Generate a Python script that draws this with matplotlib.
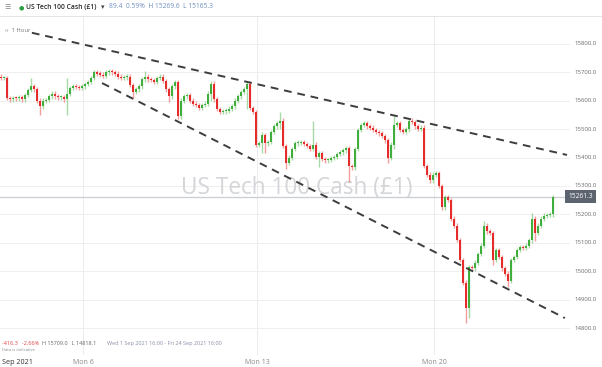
import matplotlib.pyplot as plt
import numpy as np

plt.rcParams['font.family'] = ['Open Sans', 'DejaVu Sans']

# hourly-ish closes (one value every ~3 px)
close = [15680, 15680, 15610, 15605, 15610, 15608, 15612, 15605, 15620, 15638,
         15650, 15640, 15600, 15580, 15600, 15603, 15615, 15625, 15615, 15612,
         15612, 15605, 15625, 15645, 15650, 15648, 15645, 15650,
         15658, 15665, 15680, 15700, 15695, 15692, 15688, 15700, 15702, 15700,
         15695, 15685, 15680, 15682, 15685, 15655, 15630, 15640, 15650, 15675,
         15685, 15675, 15672, 15665, 15680, 15685, 15670, 15640, 15615, 15650,
         15665, 15545, 15600, 15615, 15620, 15600, 15590, 15585, 15575, 15585,
         15590, 15625, 15660, 15605, 15570, 15560, 15562, 15565, 15572, 15580,
         15600, 15615, 15630, 15640, 15660, 15575, 15560, 15445,
         15450, 15480, 15450, 15455, 15490, 15510, 15522, 15530, 15440, 15380,
         15400, 15430, 15450, 15452, 15455, 15448, 15440, 15430, 15445, 15402,
         15415, 15395, 15390, 15392, 15398, 15402, 15412, 15418, 15425, 15433,
         15370, 15365, 15430, 15497, 15515, 15522, 15510, 15505, 15497, 15490,
         15485, 15475, 15460, 15400, 15445, 15515, 15522, 15497, 15490, 15500,
         15530, 15525, 15510, 15500, 15505, 15370, 15340, 15320,
         15340, 15345, 15300, 15225, 15260, 15250, 15185, 15160, 15110, 15040,
         14960, 14870, 15015, 15010, 15030, 15060, 15090, 15160, 15140, 15135,
         15040, 15075, 15050, 15010, 14990, 14965, 15040, 15050, 15075, 15085,
         15082, 15090, 15110, 15185, 15135, 15160, 15185, 15195, 15198, 15200,
         15261.3]
first_open = 15685

# bars with long wicks
spike_bar = [10, 13, 22, 44, 48, 56, 59, 70, 82, 87, 88, 93, 95, 104, 106,
             116, 129, 131, 136, 155, 156, 161, 164, 169, 177, 178, 184]
spike_high = [15680, 15600, 15680, 15660, 15703, 15640, 15600, 15668, 15668,
              15490, 15460, 15560, 15445, 15530, 15420, 15440, 15465, 15545,
              15538, 14960, 15020, 15175, 15060, 15000, 15205, 15190, 15269.6]
spike_low = [15630, 15550, 15550, 15610, 15670, 15595, 15538, 15600, 15570,
             15415, 15415, 15500, 15360, 15425, 15365, 15315, 15380, 15430,
             15490, 14818, 14835, 15120, 15020, 14945, 15100, 15105, 15190]

week_start_bar = [28, 86, 145]
week_labels = ['Mon 6', 'Mon 13', 'Mon 20']
y_ticks = [14800, 14900, 15000, 15100, 15200, 15300, 15400, 15500, 15600, 15700, 15800]

upper_x = [10.3, 188.7]
upper_y = [15839, 15409]
lower_x = [33.7, 188.0]
lower_y = [15662, 14835]
last_price = 15261.3

GREEN = '#3fae3a'
RED = '#e62b2b'

W, H = 602, 367
fig = plt.figure(figsize=(W / 100, H / 100), dpi=100)
ax = fig.add_axes([0, 12 / H, 570 / W, (355 - 16) / H])

n = len(close)
xs = np.arange(n)
opens = [first_open] + close[:-1]
hi = [max(o, c) + 8 for o, c in zip(opens, close)]
lo = [min(o, c) - 8 for o, c in zip(opens, close)]
for b, h, l in zip(spike_bar, spike_high, spike_low):
    hi[b] = max(hi[b], h)
    lo[b] = min(lo[b], l)

# grid
for t in y_ticks:
    ax.axhline(t, color='#ececec', lw=0.6, zorder=0)
for b in week_start_bar:
    ax.axvline(b - 0.5, color='#ececec', lw=0.7, zorder=0)

# watermark
ax.text(0.52, (15300 - 14705) / (15898 - 14705) - 0.005, 'US Tech 100 Cash (£1)',
        transform=ax.transAxes, ha='center', va='center', fontsize=16.3,
        color='#d3d5d8', zorder=0.5)

# last price line
ax.axhline(last_price, color='#c9cdd4', lw=0.9, zorder=1)

cols = [GREEN if c >= o else RED for o, c in zip(opens, close)]
ax.vlines(xs, lo, hi, colors=cols, lw=1.0, alpha=0.45, zorder=2)
bottoms = [min(o, c) for o, c in zip(opens, close)]
heights = [max(abs(c - o), 4) for o, c in zip(opens, close)]
ax.bar(xs, heights, bottom=bottoms, width=0.8, color=cols, zorder=3, linewidth=0)

# trend lines
ax.plot(upper_x, upper_y, color='#3d3d3d', lw=1.4, ls=(0, (4, 3)), zorder=4)
ax.plot(lower_x, lower_y, color='#3d3d3d', lw=1.4, ls=(0, (4, 3)), zorder=4)

ax.set_xlim(-0.33, 189.7)
ax.set_ylim(14705, 15898)
ax.set_xticks([])
ax.set_yticks([])
for s in ax.spines.values():
    s.set_visible(False)


def ftext(x, y, s, **kw):
    fig.text(x / W, 1 - y / H, s, va='center', **kw)


# y tick labels on the right
for t in y_ticks:
    ypx = 16 + (15898 - t) / (15898 - 14705) * (355 - 16)
    ftext(574, ypx, f'{t:.1f}', fontsize=4.3, color='#6b6b6b')

# last price tag
ypx = 16 + (15898 - last_price) / (15898 - 14705) * (355 - 16)
ftext(568, ypx, f'{last_price:.1f}', fontsize=4.8, color='white',
      bbox=dict(boxstyle='square,pad=0.45', fc='#5d6470', ec='none'))

# header
fig.add_artist(plt.Line2D([0, 1], [1 - 16 / H] * 2, color='#e4e4e4', lw=0.7))
ftext(4, 7, '☰', fontsize=5, color='#888888', family='DejaVu Sans')
ftext(19, 7.5, '●', fontsize=4.5, color='#2ea043', family='DejaVu Sans')
ftext(26, 7, 'US Tech 100 Cash (£1)', fontsize=4.9, color='#2a2a2a', fontweight='semibold')
ftext(101, 7, '▾', fontsize=5, color='#444444', family='DejaVu Sans')
ftext(109, 7, '89.4  0.59%  H 15269.6  L 15165.3', fontsize=4.8, color='#6f8fbf')
ftext(5, 30, '‹›  1 Hour', fontsize=4.2, color='#777777')

# footer info
ftext(2, 343.5, '-416.3   -2.66%', fontsize=4.0, color='#e04848')
ftext(42, 343.5, 'H 15709.0   L 14818.1', fontsize=4.0, color='#666666')
ftext(107, 343.5, 'Wed 1 Sep 2021 16:00 - Fri 24 Sep 2021 16:00', fontsize=4.0, color='#8a8fa8')
ftext(2, 350, 'Data is indicative', fontsize=3.0, color='#888888')

# x labels
ftext(2, 362, 'Sep 2021', fontsize=5.2, color='#333333')
for b, lab in zip(week_start_bar, week_labels):
    xpx = (b - 0.5 + 0.33) / (189.7 + 0.33) * 570
    ftext(xpx, 362, lab, fontsize=5.0, color='#888888', ha='center')

fig.savefig('out.png', dpi=100)
